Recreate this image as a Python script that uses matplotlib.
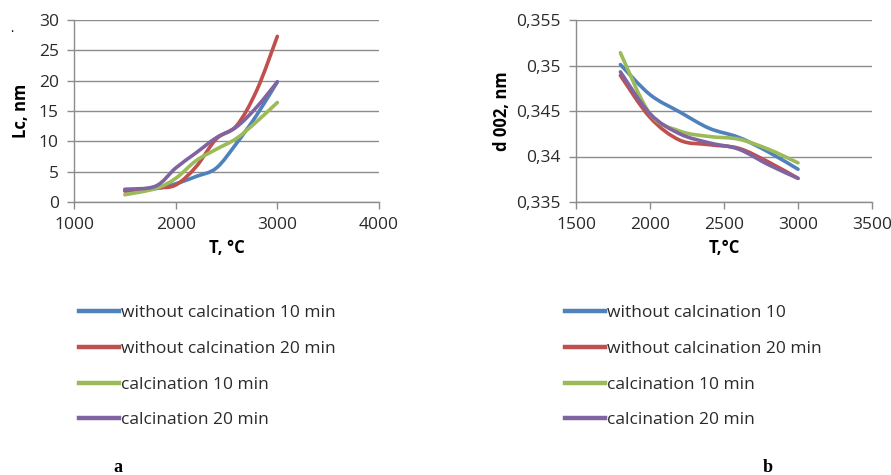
import matplotlib
matplotlib.use("Agg")
import matplotlib.pyplot as plt
from matplotlib.path import Path
from matplotlib.patches import PathPatch
from matplotlib.lines import Line2D
import numpy as np

plt.rcParams['font.family'] = ['Open Sans', 'DejaVu Sans']

# ---------------- data ----------------
labels_a = ["without calcination 10 min", "without calcination 20 min",
            "calcination 10 min", "calcination 20 min"]
labels_b = ["without calcination 10", "without calcination 20 min",
            "calcination 10 min", "calcination 20 min"]
colors = ["#4F81BD", "#C0504D", "#9BBB59", "#8064A2"]

T_a = [1500, 1800, 2000, 2200, 2400, 2600, 2800, 3000]
Lc_wo10 = [1.9, 2.2, 3.0, 4.2, 5.6, 9.7, 14.4, 19.8]
Lc_wo20 = [1.8, 2.3, 2.8, 5.8, 10.4, 12.6, 18.5, 27.3]
Lc_c10 = [1.2, 2.2, 3.9, 6.8, 8.7, 10.5, 13.3, 16.4]
Lc_c20 = [2.1, 2.6, 5.6, 8.1, 10.6, 12.4, 15.7, 19.8]

T_b = [1800, 2000, 2200, 2400, 2600, 2800, 3000]
d_wo10 = [0.3501, 0.3468, 0.3449, 0.3431, 0.3421, 0.3405, 0.3386]
d_wo20 = [0.3489, 0.3443, 0.3418, 0.3413, 0.3409, 0.3394, 0.3376]
d_c10 = [0.3514, 0.3447, 0.3428, 0.3422, 0.3419, 0.3408, 0.3393]
d_c20 = [0.3493, 0.3447, 0.3425, 0.3415, 0.3408, 0.3391, 0.3376]

series_a = [Lc_wo10, Lc_wo20, Lc_c10, Lc_c20]
series_b = [d_wo10, d_wo20, d_c10, d_c20]

xticks_a = [1000, 2000, 3000, 4000]
yticks_a = [0, 5, 10, 15, 20, 25, 30]
xticks_b = [1500, 2000, 2500, 3000, 3500]
yticks_b = [0.335, 0.34, 0.345, 0.35, 0.355]
ylabels_b = ["0,335", "0,34", "0,345", "0,35", "0,355"]


def smooth_path(x, y):
    """Excel-like smoothed line as cubic Bezier segments through the data points."""
    pts = np.column_stack([x, y]).astype(float)
    n = len(pts)
    verts = [pts[0]]
    codes = [Path.MOVETO]
    for i in range(n - 1):
        p0 = pts[i - 1] if i > 0 else pts[i]
        p1 = pts[i]
        p2 = pts[i + 1]
        p3 = pts[i + 2] if i + 2 < n else pts[i + 1]
        c1 = p1 + (p2 - p0) / 6.0
        c2 = p2 - (p3 - p1) / 6.0
        verts += [c1, c2, p2]
        codes += [Path.CURVE4] * 3
    return Path(verts, codes)


GRID = "#8C8C8C"
LW = 2.6
TICK_FS = 12.5
LAB_FS = 12
LEG_FS = 12.5

fig = plt.figure(figsize=(8.91, 4.75), dpi=100)
axA = fig.add_axes([74 / 891, 1 - 202 / 475, (379 - 74) / 891, (202 - 20) / 475])
axB = fig.add_axes([576 / 891, 1 - 202 / 475, (872 - 576) / 891, (202 - 20) / 475])


def style(ax):
    for s in ["top", "right"]:
        ax.spines[s].set_visible(False)
    for s in ["left", "bottom"]:
        ax.spines[s].set_color(GRID)
        ax.spines[s].set_linewidth(1.0)
    ax.yaxis.grid(True, color=GRID, linewidth=1.0)
    ax.set_axisbelow(True)
    ax.tick_params(axis="both", colors=GRID, labelcolor="#2a2a2a", labelsize=TICK_FS,
                   length=5, width=1.0, direction="out")
    ax.tick_params(axis="x", pad=6)
    ax.tick_params(axis="y", pad=6)


# ---- chart a ----
style(axA)
for ys, c in zip(series_a, colors):
    axA.add_patch(PathPatch(smooth_path(T_a, ys), fill=False, edgecolor=c,
                            linewidth=LW, capstyle="round", joinstyle="round"))
axA.set_xlim(1000, 4000)
axA.set_ylim(0, 30)
axA.set_xticks(xticks_a)
axA.set_yticks(yticks_a)
axA.set_xlabel("T, °C", fontsize=LAB_FS, fontweight="bold", labelpad=4)
axA.set_ylabel("Lc, nm", fontsize=LAB_FS, fontweight="bold", labelpad=6)

# ---- chart b ----
style(axB)
for ys, c in zip(series_b, colors):
    axB.add_patch(PathPatch(smooth_path(T_b, ys), fill=False, edgecolor=c,
                            linewidth=LW, capstyle="round", joinstyle="round"))
axB.set_xlim(1500, 3500)
axB.set_ylim(0.335, 0.355)
axB.set_xticks(xticks_b)
axB.set_yticks(yticks_b)
axB.set_yticklabels(ylabels_b)
axB.set_xlabel("T,°C", fontsize=LAB_FS, fontweight="bold", labelpad=4)
axB.set_ylabel("d 002, nm", fontsize=LAB_FS, fontweight="bold", labelpad=4)

# ---- legends ----
handles = [Line2D([], [], color=c, linewidth=3.2) for c in colors]
legA = fig.legend(handles, labels_a, loc="upper left",
                  bbox_to_anchor=(72 / 891, 1 - 298 / 475), frameon=False,
                  fontsize=LEG_FS, handlelength=2.3, handletextpad=0.1,
                  labelspacing=1.13, borderaxespad=0)
legB = fig.legend(handles, labels_b, loc="upper left",
                  bbox_to_anchor=(558 / 891, 1 - 298 / 475), frameon=False,
                  fontsize=LEG_FS, handlelength=2.3, handletextpad=0.1,
                  labelspacing=1.13, borderaxespad=0)
for leg in (legA, legB):
    for t in leg.get_texts():
        t.set_color("#2a2a2a")

fig.text(118 / 891, 1 - 468 / 475, "a", fontsize=13, fontweight="bold",
         family="Liberation Serif", ha="center", va="center")
fig.text(768 / 891, 1 - 468 / 475, "b", fontsize=13, fontweight="bold",
         family="Liberation Serif", ha="center", va="center")
fig.text(12 / 891, 1 - 28 / 475, ".", fontsize=9, ha="center", va="center")

fig.savefig("out.png", dpi=100)
